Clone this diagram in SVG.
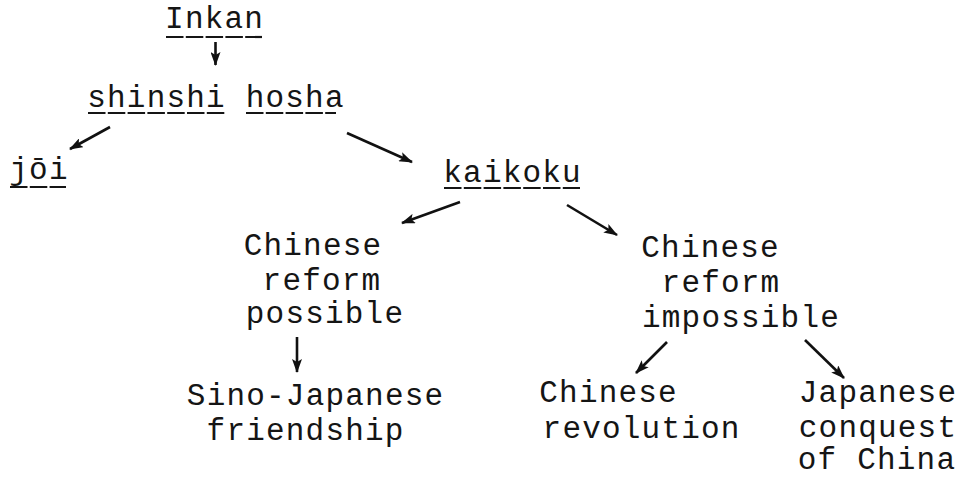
<svg xmlns="http://www.w3.org/2000/svg" width="960" height="479" viewBox="0 0 960 479">
<style>
text{font-family:"Liberation Mono","DejaVu Sans Mono",monospace;font-size:31px;letter-spacing:1.2px;fill:#151515;text-anchor:middle}
.ul{stroke:#151515;stroke-width:2.2;stroke-dasharray:17.5 2.3}
.conn line{stroke:#111;stroke-width:2.6;fill:none;marker-end:url(#ah)}
</style>
<defs>
<marker id="ah" viewBox="0 0 14 10" refX="13" refY="5" markerWidth="14" markerHeight="10" markerUnits="userSpaceOnUse" orient="auto">
<path d="M0,0 L14,5 L0,10 L3,5 Z" fill="#111"/>
</marker>
</defs>
<rect width="960" height="479" fill="#fff"/>
<g id="inkan"><text x="214.6" y="28">Inkan</text><line class="ul" x1="166" y1="37" x2="262" y2="37"/></g>
<g id="shinshi-hosha"><text x="216" y="107">shinshi hosha</text><line class="ul" x1="88" y1="113" x2="225" y2="113"/><line class="ul" x1="246" y1="113" x2="336" y2="113"/></g>
<g id="joi"><text x="39" y="179">jōi</text><line class="ul" x1="10" y1="187" x2="66" y2="187"/></g>
<g id="kaikoku"><text x="512.6" y="182">kaikoku</text><line class="ul" x1="444" y1="188" x2="580" y2="188"/></g>
<g id="reform-possible"><text x="313" y="255">Chinese</text><text x="322" y="290">reform</text><text x="325" y="323">possible</text></g>
<g id="reform-impossible"><text x="710.6" y="257">Chinese</text><text x="721" y="292">reform</text><text x="741" y="327">impossible</text></g>
<g id="friendship"><text x="315.6" y="405">Sino-Japanese</text><text x="305.6" y="440">friendship</text></g>
<g id="revolution"><text x="608.6" y="402">Chinese</text><text x="641.6" y="438">revolution</text></g>
<g id="conquest"><text x="878" y="402">Japanese</text><text x="878" y="437">conquest</text><text x="877" y="469">of China</text></g>
<g id="connectors" class="conn">
<line x1="215.5" y1="42" x2="215.5" y2="65"/>
<line x1="110" y1="127" x2="70" y2="149"/>
<line x1="347" y1="133" x2="412" y2="162"/>
<line x1="460" y1="202" x2="402" y2="223"/>
<line x1="567" y1="205" x2="617" y2="235"/>
<line x1="297" y1="337" x2="297" y2="372"/>
<line x1="667" y1="342" x2="636" y2="373"/>
<line x1="805" y1="340" x2="844" y2="378"/>
</g>
</svg>
